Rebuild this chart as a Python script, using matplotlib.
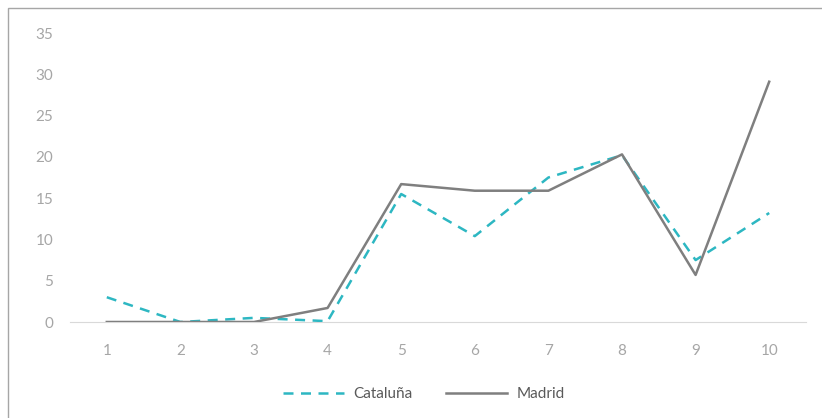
import matplotlib.pyplot as plt
from matplotlib.patches import Rectangle

plt.rcParams['font.family'] = ['Lato', 'DejaVu Sans']

periods = list(range(1, 11))
cataluna = [3.0, 0.0, 0.5, 0.1, 15.5, 10.4, 17.5, 20.2, 7.5, 13.2]
madrid = [0.0, 0.0, 0.0, 1.7, 16.7, 15.9, 15.9, 20.3, 5.7, 29.1]
yticks = [0, 5, 10, 15, 20, 25, 30, 35]

fig = plt.figure(figsize=(8.22, 4.18), dpi=100)
ax = fig.add_axes([70 / 822, 96 / 418, 736 / 822, 289 / 418])

ax.plot(periods, cataluna, color='#2DB7C2', lw=1.8, ls=(0, (4, 3)), label='Cataluña')
ax.plot(periods, madrid, color='#7F7F7F', lw=1.8, label='Madrid')

ax.set_xlim(0.5, 10.5)
ax.set_ylim(0, 35)
ax.set_xticks(periods)
ax.set_yticks(yticks)
ax.tick_params(length=0, labelsize=11, colors='#A6A6A6')
ax.tick_params(axis='x', pad=16)
ax.tick_params(axis='y', pad=12)
for s in ['top', 'right', 'left']:
    ax.spines[s].set_visible(False)
ax.spines['bottom'].set_color('#D9D9D9')
ax.spines['bottom'].set_zorder(0)

leg = fig.legend(loc='center', bbox_to_anchor=(424 / 822, 1 - 394 / 418), ncol=2,
                 frameon=False, fontsize=11, handlelength=4.0, columnspacing=2.2,
                 handletextpad=0.6)
for t in leg.get_texts():
    t.set_color('#595959')

# outer frame (left and top edges visible)
fig.patches.append(Rectangle((8 / 822, -0.1), 1.2, 1 - 8 / 418 + 0.1,
                             transform=fig.transFigure, fill=False,
                             edgecolor='#A6A6A6', lw=1))

fig.savefig('out.png', dpi=100)
